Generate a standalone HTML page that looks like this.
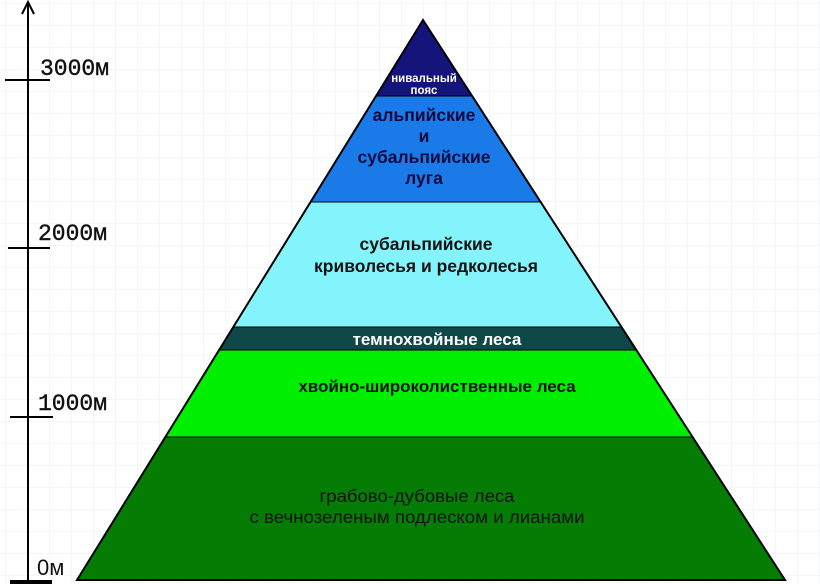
<!DOCTYPE html>
<html><head><meta charset="utf-8"><style>
html,body{margin:0;padding:0;background:#fff;}
svg{display:block;}
text{font-family:"Liberation Sans",sans-serif;}
.m{font-family:"Liberation Mono",monospace;font-size:23px;fill:#111;stroke:#111;stroke-width:0.4;}
</style></head><body>
<svg width="820" height="584" viewBox="0 0 820 584" xmlns="http://www.w3.org/2000/svg">
<defs>
<pattern id="g" width="22" height="22" patternUnits="userSpaceOnUse" x="6" y="4">
<path d="M22 0V22M0 22H22" fill="none" stroke="#e2f2f4" stroke-width="1"/>
</pattern>
</defs>
<rect width="820" height="584" fill="#fff"/>
<rect width="820" height="584" fill="url(#g)"/>

<line x1="28" y1="2" x2="28" y2="584" stroke="#000" stroke-width="2"/>
<path d="M22 14L28 2L34 14" fill="none" stroke="#000" stroke-width="2"/>
<line x1="5" y1="80" x2="50" y2="80" stroke="#000" stroke-width="2"/>
<line x1="8" y1="248" x2="50" y2="248" stroke="#000" stroke-width="2"/>
<line x1="10" y1="417" x2="53" y2="417" stroke="#000" stroke-width="2"/>
<line x1="10" y1="582" x2="52" y2="582" stroke="#000" stroke-width="4"/>
<text class="m" x="40" y="75">3000м</text>
<text class="m" x="38" y="240">2000м</text>
<text class="m" x="38" y="410">1000м</text>
<text class="m" x="37" y="575" style="font-family:'Liberation Sans Narrow','Liberation Sans',sans-serif;font-size:22px;stroke-width:0">0м</text>

<polygon points="423,20 472,96 376,96" fill="#14147a"/>
<polygon points="376,96 472,96 540,202 311,202" fill="#1a7ae8"/>
<polygon points="311,202 540,202 621,327 233,327" fill="#84f4fc"/>
<polygon points="233,327 621,327 636,350 219,350" fill="#0f4848"/>
<polygon points="219,350 636,350 692,437 165,437" fill="#00ee00"/>
<polygon points="165,437 692,437 785,580 77,580" fill="#057d05"/>
<g stroke="#000" stroke-width="2" fill="none">
<polygon points="423,20 785,580 77,580"/>
<line x1="376" y1="96" x2="472" y2="96" stroke-width="1"/>
<line x1="311" y1="202" x2="540" y2="202" stroke-width="1"/>
<line x1="233" y1="327" x2="621" y2="327" stroke-width="1"/>
<line x1="219" y1="350" x2="636" y2="350" stroke-width="1"/>
<line x1="165" y1="437" x2="692" y2="437" stroke-width="1"/>
</g>

<g text-anchor="middle" font-weight="bold">
<text x="424" y="82" font-size="11.5" fill="#fff">нивальный</text>
<text x="424" y="94" font-size="11.5" fill="#fff">пояс</text>
<text x="424" y="121" font-size="17.5" fill="#0a0a40">альпийские</text>
<text x="424" y="142" font-size="17.5" fill="#0a0a40">и</text>
<text x="424" y="163" font-size="17.5" fill="#0a0a40">субальпийские</text>
<text x="424" y="184" font-size="17.5" fill="#0a0a40">луга</text>
<text x="426" y="250" font-size="17.5" fill="#111">субальпийские</text>
<text x="426" y="272" font-size="17.5" fill="#111">криволесья и редколесья</text>
<text x="437" y="345" font-size="17" fill="#fff">темнохвойные леса</text>
<text x="437" y="392" font-size="17" fill="#111">хвойно-широколиственные леса</text>
</g>
<g text-anchor="middle" font-size="17.5" fill="#111" style="font-family:'Liberation Sans Narrow','Liberation Sans',sans-serif">
<text x="417" y="502" textLength="195" lengthAdjust="spacingAndGlyphs" style="font-family:'Liberation Sans Narrow','Liberation Sans',sans-serif">грабово-дубовые леса</text>
<text x="417" y="523" textLength="335" lengthAdjust="spacingAndGlyphs" style="font-family:'Liberation Sans Narrow','Liberation Sans',sans-serif">с вечнозеленым подлеском и лианами</text>
</g>
</svg>
</body></html>
